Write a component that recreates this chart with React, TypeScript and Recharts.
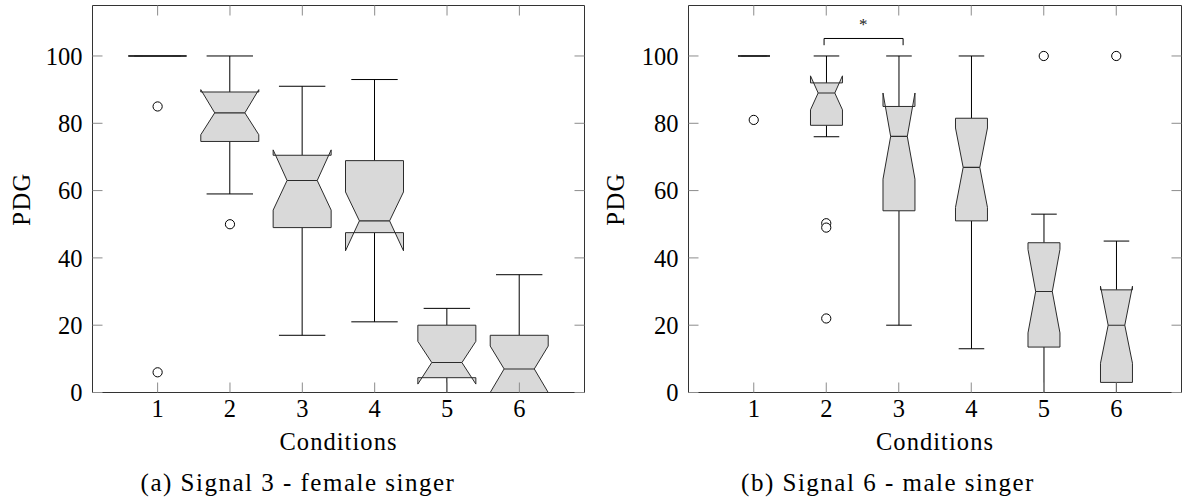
import React from 'react';
import { ComposedChart, Bar, Scatter, XAxis, YAxis, ReferenceLine } from 'recharts';

// ---------- data ----------
const CONDITIONS = [1, 2, 3, 4, 5, 6];
const X_TICKS = [1, 2, 3, 4, 5, 6];
const Y_TICKS = [0, 20, 40, 60, 80, 100];
const X_DOMAIN = [0.1, 6.9];
const Y_DOMAIN = [0, 115];

// (a) Signal 3 - female singer
const A_WHISKER_LOW = [100, 59, 17, 21, 0, 0];
const A_Q1 = [100, 74.6, 49, 47.5, 4.4, 0];
const A_MEDIAN = [100, 83.1, 63, 51, 8.9, 7];
const A_Q3 = [100, 89.3, 70.5, 68.9, 20, 17];
const A_WHISKER_HIGH = [100, 100, 91, 93, 25, 35];
const A_NOTCH_LOW = [100, 76.6, 54.2, 42.1, 2.5, 0];
const A_NOTCH_HIGH = [100, 90, 72.1, 59.6, 15.2, 13.8];
const A_OUTLIER_COND = [1, 1, 2];
const A_OUTLIER_VALUE = [85, 6, 50];

// (b) Signal 6 - male singer
const B_WHISKER_LOW = [100, 76, 20, 13, 0, 0];
const B_Q1 = [100, 79.4, 54, 51, 13.5, 3];
const B_MEDIAN = [100, 89, 76.1, 66.9, 30, 20];
const B_Q3 = [100, 92, 85, 81.5, 44.5, 30.5];
const B_WHISKER_HIGH = [100, 100, 100, 100, 53, 45];
const B_NOTCH_LOW = [100, 84, 63.4, 55, 17.7, 8.7];
const B_NOTCH_HIGH = [100, 94.1, 89, 78.6, 42.5, 31.6];
const B_OUTLIER_COND = [1, 2, 2, 2, 5, 6];
const B_OUTLIER_VALUE = [81, 50.3, 49, 22, 100, 100];

// significance bracket between conditions 2 and 3 in (b)
const B_BRACKET_X = [1.97, 3.06];
const B_BRACKET_LEG_Y = 103.2;
const B_BRACKET_TOP_Y = 105.2;
const B_STAR_COND = [2.51];
const B_STAR_VALUE = [110.3];

// ---------- styles ----------
const FONT = "'Liberation Serif', serif";
const FS = 24.5;
const BOX_FILL = '#d9d9d9';
const BOX_STROKE = '#2b2b2b';
const WHISKER = '#000';
const FRAME = '#333';
const TICK_COLOR = '#8c8c8c';
const CAP_RATIO = 0.8;
const NOTCH_RATIO = 0.52;

type Row = {
  cond: number;
  whiskerLow: number;
  q1: number;
  median: number;
  q3: number;
  whiskerHigh: number;
  notchLow: number;
  notchHigh: number;
};

const buildRows = (
  lo: number[], q1: number[], med: number[], q3: number[], hi: number[], nlo: number[], nhi: number[]
): Row[] =>
  CONDITIONS.map((c, i) => ({
    cond: c,
    whiskerLow: lo[i],
    q1: q1[i],
    median: med[i],
    q3: q3[i],
    whiskerHigh: hi[i],
    notchLow: nlo[i],
    notchHigh: nhi[i],
  }));

const ROWS_A = buildRows(A_WHISKER_LOW, A_Q1, A_MEDIAN, A_Q3, A_WHISKER_HIGH, A_NOTCH_LOW, A_NOTCH_HIGH);
const ROWS_B = buildRows(B_WHISKER_LOW, B_Q1, B_MEDIAN, B_Q3, B_WHISKER_HIGH, B_NOTCH_LOW, B_NOTCH_HIGH);
const OUT_A = A_OUTLIER_COND.map((c, i) => ({ cond: c, pdg: A_OUTLIER_VALUE[i] }));
const OUT_B = B_OUTLIER_COND.map((c, i) => ({ cond: c, pdg: B_OUTLIER_VALUE[i] }));
const STAR_B = B_STAR_COND.map((c, i) => ({ cond: c, pdg: B_STAR_VALUE[i] }));

// ---------- shapes ----------
const BoxShape = (props: any) => {
  const { x, y, width, height, payload } = props;
  if (payload == null || !isFinite(x) || !isFinite(y)) return <g />;
  const hi = payload.whiskerHigh;
  const base = y + height; // pixel of value 0
  const py = (v: number) => base - (height * v) / hi;
  const cx = x + width / 2;
  const half = width / 2;
  const cap = half * CAP_RATIO;
  const nw = half * NOTCH_RATIO;
  const L = cx - half;
  const R = cx + half;
  const yq1 = py(payload.q1);
  const yq3 = py(payload.q3);
  const ymed = py(payload.median);
  const ynl = py(payload.notchLow);
  const ynh = py(payload.notchHigh);
  const ylo = py(payload.whiskerLow);
  const yhi = py(payload.whiskerHigh);
  const d = [
    `M${L},${yq1}`,
    `L${L},${ynl}`,
    `L${cx - nw},${ymed}`,
    `L${L},${ynh}`,
    `L${L},${yq3}`,
    `L${R},${yq3}`,
    `L${R},${ynh}`,
    `L${cx + nw},${ymed}`,
    `L${R},${ynl}`,
    `L${R},${yq1}`,
    'Z',
  ].join(' ');
  return (
    <g>
      <line x1={cx} x2={cx} y1={yq3} y2={yhi} stroke={WHISKER} strokeWidth={1} />
      <line x1={cx} x2={cx} y1={yq1} y2={ylo} stroke={WHISKER} strokeWidth={1} />
      <line x1={cx - cap} x2={cx + cap} y1={yhi} y2={yhi} stroke={WHISKER} strokeWidth={1} />
      <line x1={cx - cap} x2={cx + cap} y1={ylo} y2={ylo} stroke={WHISKER} strokeWidth={1} />
      <path d={d} fill={BOX_FILL} stroke={BOX_STROKE} strokeWidth={1} strokeLinejoin="miter" />
      <line x1={cx - nw} x2={cx + nw} y1={ymed} y2={ymed} stroke={BOX_STROKE} strokeWidth={1.1} />
    </g>
  );
};

const OutlierShape = (props: any) => {
  const { cx, cy } = props;
  if (!isFinite(cx) || !isFinite(cy)) return <g />;
  return <circle cx={cx} cy={cy} r={4.6} fill="#fff" stroke="#000" strokeWidth={1} />;
};

const StarShape = (props: any) => {
  const { cx, cy } = props;
  if (!isFinite(cx) || !isFinite(cy)) return <g />;
  return (
    <text x={cx} y={cy} dy="0.5em" textAnchor="middle" fontFamily={FONT} fontSize={17} fill="#222">
      *
    </text>
  );
};

const NoTick = () => <g />;
const NoShape = () => <g />;

const makeYLabel = (dx: number) => (p: any) => {
  const vb = p.viewBox || { x: 0, y: 0, width: 0, height: 0 };
  const cx = vb.x + dx;
  const cy = vb.y + vb.height / 2;
  return (
    <text
      x={cx}
      y={cy}
      transform={`rotate(-90, ${cx}, ${cy})`}
      textAnchor="middle"
      dominantBaseline="central"
      fontFamily={FONT}
      fontSize={FS}
      fill="#000"
      style={{ letterSpacing: '1.5px' }}
    >
      PDG
    </text>
  );
};

const xLabel = (p: any) => {
  const vb = p.viewBox || { x: 0, y: 0, width: 0, height: 0 };
  return (
    <text
      x={vb.x + vb.width / 2}
      y={vb.y + 48.5}
      textAnchor="middle"
      dominantBaseline="central"
      fontFamily={FONT}
      fontSize={FS}
      fill="#000"
      style={{ letterSpacing: '1.05px' }}
    >
      Conditions
    </text>
  );
};

const TICK_TEXT = { fill: '#000', fontSize: FS, fontFamily: FONT };
const AXIS_LINE = { stroke: FRAME, strokeWidth: 1 };
const TICK_LINE = { stroke: TICK_COLOR, strokeWidth: 1 };

type PanelProps = {
  rows: Row[];
  outliers: { cond: number; pdg: number }[];
  yAxisWidth: number;
  labelDx: number;
  marginRight: number;
  withBracket?: boolean;
};

const Panel = ({ rows, outliers, yAxisWidth, labelDx, marginRight, withBracket }: PanelProps) => (
  <ComposedChart
    width={592}
    height={503}
    data={rows}
    margin={{ top: 4.5, right: marginRight, bottom: 80.5, left: 0.5 }}
  >
    <XAxis
      dataKey="cond"
      type="number"
      domain={X_DOMAIN}
      ticks={X_TICKS}
      interval={0}
      allowDataOverflow
      height={30}
      tickSize={-10}
      tickMargin={17}
      axisLine={AXIS_LINE}
      tickLine={TICK_LINE}
      tick={TICK_TEXT}
      label={xLabel}
    />
    <XAxis
      xAxisId="top"
      dataKey="cond"
      orientation="top"
      type="number"
      domain={X_DOMAIN}
      ticks={X_TICKS}
      interval={0}
      allowDataOverflow
      height={1}
      tickSize={-10}
      axisLine={AXIS_LINE}
      tickLine={TICK_LINE}
      tick={NoTick}
    />
    <YAxis
      type="number"
      domain={Y_DOMAIN}
      ticks={Y_TICKS}
      interval={0}
      allowDataOverflow
      width={yAxisWidth}
      tickSize={-10}
      tickMargin={20}
      axisLine={AXIS_LINE}
      tickLine={TICK_LINE}
      tick={TICK_TEXT}
      label={makeYLabel(labelDx)}
    />
    <YAxis
      yAxisId="right"
      orientation="right"
      type="number"
      domain={Y_DOMAIN}
      ticks={Y_TICKS}
      interval={0}
      allowDataOverflow
      width={1}
      tickSize={-10}
      axisLine={AXIS_LINE}
      tickLine={TICK_LINE}
      tick={NoTick}
    />
    {/* invisible series that binds the top and right frame axes */}
    <Scatter
      xAxisId="top"
      yAxisId="right"
      data={rows}
      dataKey="median"
      shape={NoShape}
      isAnimationActive={false}
      legendType="none"
    />
    <Bar dataKey="whiskerHigh" barSize={58} shape={BoxShape} isAnimationActive={false} />
    <Scatter data={outliers} dataKey="pdg" shape={OutlierShape} isAnimationActive={false} />
    {withBracket && (
      <ReferenceLine
        segment={[
          { x: B_BRACKET_X[0], y: B_BRACKET_LEG_Y },
          { x: B_BRACKET_X[0], y: B_BRACKET_TOP_Y },
        ]}
        stroke="#000"
        strokeWidth={1}
      />
    )}
    {withBracket && (
      <ReferenceLine
        segment={[
          { x: B_BRACKET_X[0], y: B_BRACKET_TOP_Y },
          { x: B_BRACKET_X[1], y: B_BRACKET_TOP_Y },
        ]}
        stroke="#000"
        strokeWidth={1}
      />
    )}
    {withBracket && (
      <ReferenceLine
        segment={[
          { x: B_BRACKET_X[1], y: B_BRACKET_TOP_Y },
          { x: B_BRACKET_X[1], y: B_BRACKET_LEG_Y },
        ]}
        stroke="#000"
        strokeWidth={1}
      />
    )}
    {withBracket && <Scatter data={STAR_B} dataKey="pdg" shape={StarShape} isAnimationActive={false} />}
  </ComposedChart>
);

const captionStyle = (center: number): React.CSSProperties => ({
  position: 'absolute',
  left: center - 300,
  width: 600,
  top: 469.5,
  textAlign: 'center',
  fontFamily: FONT,
  fontSize: 25,
  lineHeight: '25px',
  letterSpacing: '1.5px',
  color: '#000',
  whiteSpace: 'nowrap',
});

export default function App() {
  return (
    <div style={{ position: 'absolute', left: 0, top: 0, width: 1184, height: 503, background: '#fff', overflow: 'hidden' }}>
      <div style={{ position: 'absolute', left: 0, top: 0 }}>
        <Panel rows={ROWS_A} outliers={OUT_A} yAxisWidth={92} labelDx={20.5} marginRight={6.5} />
      </div>
      <div style={{ position: 'absolute', left: 592, top: 0 }}>
        <Panel rows={ROWS_B} outliers={OUT_B} yAxisWidth={96} labelDx={23.2} marginRight={1.5} withBracket />
      </div>
      <div style={captionStyle(298)}>(a) Signal 3 - female singer</div>
      <div style={captionStyle(888)}>(b) Signal 6 - male singer</div>
    </div>
  );
}
